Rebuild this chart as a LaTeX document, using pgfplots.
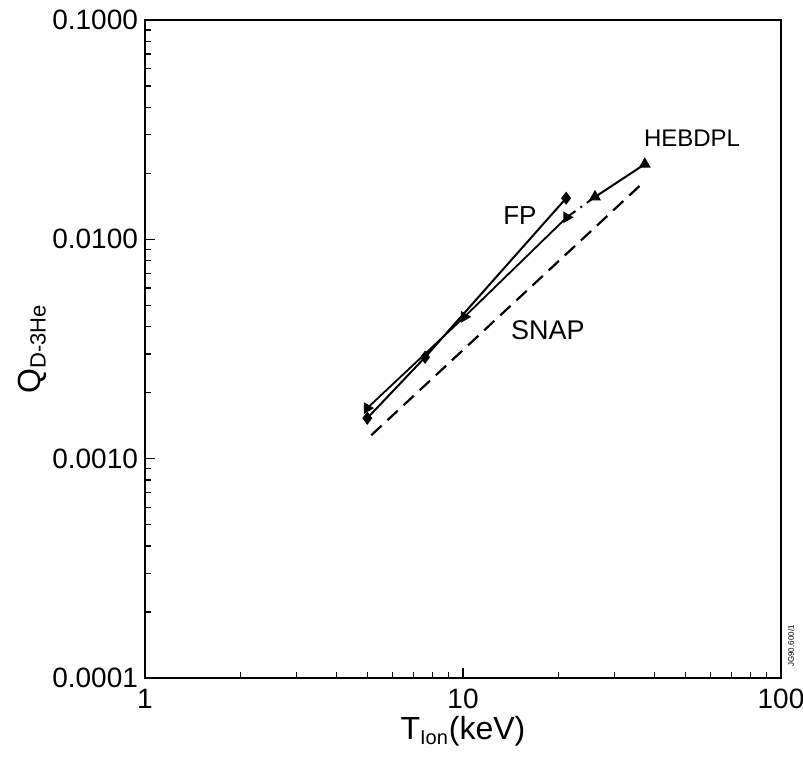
\documentclass[border=0pt]{standalone}
\usepackage{fontspec}
\setmainfont{Liberation Sans}
\usepackage{pgfplots}
\pgfplotsset{compat=1.18}
\begin{document}
\begin{tikzpicture}
\begin{axis}[
  scale only axis,
  width=318pt, height=329pt,
  xmode=log, ymode=log,
  xmin=1, xmax=100, ymin=1e-4, ymax=0.1,
  xtick={1,10,100}, xticklabels={1,10,100},
  ytick={1e-4,1e-3,1e-2,1e-1}, yticklabels={0.0001,0.0010,0.0100,0.1000},
  tick align=inside,
  xtick pos=left, ytick pos=left,
  major tick length=5pt, minor tick length=2.8pt,
  every tick/.style={black, line width=0.6pt},
  axis line style={line width=1.1pt},
  tick label style={font=\fontsize{14}{16}\selectfont},
  xticklabel style={yshift=-2pt},
  label style={font=\fontsize{16}{18}\selectfont},
  xlabel={T\textsubscript{\fontsize{10}{11}\selectfont Ion}(keV)},
  ylabel={Q\textsubscript{\fontsize{11}{12}\selectfont D-3He}},
  xlabel style={yshift=3pt},
  ylabel style={yshift=-4pt},
  clip=false,
]
% SNAP (dashed)
\addplot[black, line width=1.1pt, dash pattern=on 7pt off 4pt] coordinates {(5.15,0.00128) (36.8,0.0181)};
% FP (diamonds)
\addplot[black, line width=1pt, mark=diamond*, mark size=2.5pt] coordinates {(5.0,0.00153) (7.6,0.0029) (21.1,0.0154)};
% HEBDPL (triangles)
\addplot[black, line width=1pt, mark=triangle*, mark size=2.5pt] coordinates {(37.3,0.0220) (26.0,0.0156)};
\addplot[black, line width=1pt, dash pattern=on 5pt off 3pt on 1pt off 3pt] coordinates {(26.0,0.0156) (21.2,0.0126)};
\addplot[black, line width=0.9pt, mark=triangle*, mark size=2.5pt, mark options={rotate=30}] coordinates {(21.2,0.0126) (10.1,0.00443) (5.0,0.00170)};
\node[font=\fontsize{12}{14}\selectfont] at (axis cs:52.5,0.029) {HEBDPL};
\node[font=\fontsize{13}{15}\selectfont] at (axis cs:15.1,0.0129) {FP};
\node[font=\fontsize{13.5}{15}\selectfont] at (axis cs:18.5,0.00386) {SNAP};
\node[font=\fontsize{4}{5}\selectfont, rotate=90] at ([xshift=5pt,yshift=16pt]rel axis cs:1,0) {JG90.600/1};
\end{axis}
\pgfresetboundingbox
\path (current axis.south west) ++(-72.5pt,-41.5pt) coordinate (bl);
\path (current axis.north east) ++(11pt,10pt) coordinate (tr);
\path[use as bounding box] (bl) rectangle (tr);
\end{tikzpicture}
\end{document}
